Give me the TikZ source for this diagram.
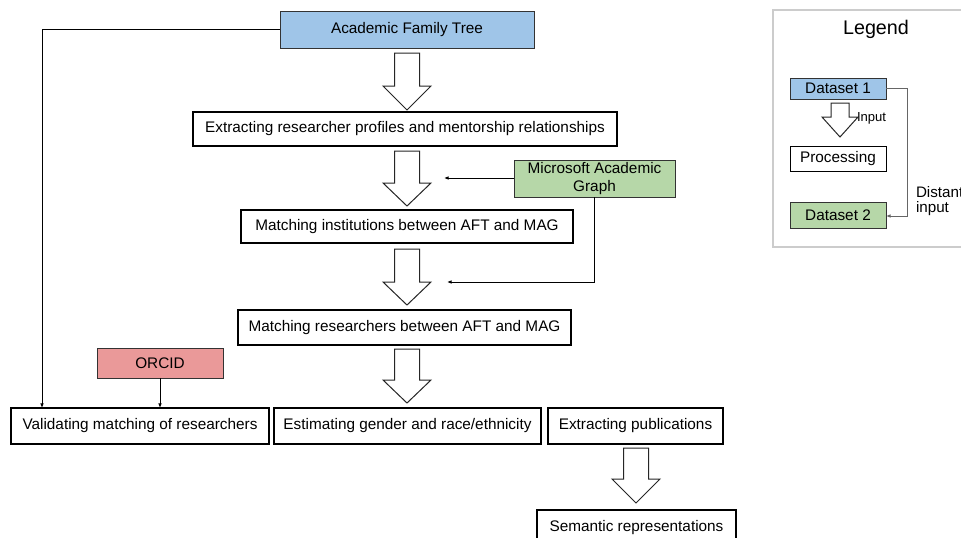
\documentclass[tikz,border=0pt]{standalone}
\usepackage{fontspec}
\setmainfont{Liberation Sans}
\usetikzlibrary{arrows.meta}
\definecolor{aftblue}{HTML}{9FC5E8}
\definecolor{maggreen}{HTML}{B6D7A8}
\definecolor{orcidpink}{HTML}{EA9999}
\definecolor{leggray}{HTML}{CCCCCC}
\def\u{0.75pt}
\tikzset{
 base/.style={inner sep=0pt, outer sep=0pt, align=center, font=\fontsize{11.5}{13.5}\selectfont},
 dataset/.style={base, draw=black!80, line width=0.75pt},
 procbox/.style={base, draw=black, line width=1.9pt, fill=white},
 thinbox/.style={base, draw=black, line width=0.75pt, fill=white},
 blockarr/.style={draw=black!85, line width=0.75pt, fill=white, line join=miter},
 conn/.style={draw=black, line width=0.7pt, -{Latex[length=3.5pt,width=2.8pt]}},
 grayconn/.style={draw=black!60, line width=0.7pt, -{Latex[length=3.5pt,width=2.8pt]}},
}
\newcommand\pbox[7]{\node[#2, minimum width={(#5-#3)*\u}, minimum height={(#6-#4)*\u}] (#1) at ({(#3+#5)/2},{(#4+#6)/2}) {#7};}
% cx, top, headstart, tip, shaft half width, head half width
\newcommand\barrow[6]{\draw[blockarr] ({#1-#5},#2) -- ({#1+#5},#2) -- ({#1+#5},#3) -- ({#1+#6},#3) -- (#1,#4) -- ({#1-#6},#3) -- ({#1-#5},#3) -- cycle;}
\begin{document}
\begin{tikzpicture}[x=0.75pt,y=-0.75pt]
\clip (0,0) rectangle (961,537);
\fill[white] (0,0) rectangle (961,537);

% main flow
\pbox{aft}{dataset,fill=aftblue}{280}{11}{534}{48}{Academic Family Tree}
\pbox{prof}{procbox}{193}{112}{617}{146}{Extracting researcher profiles and mentorship relationships}
\pbox{mag}{dataset,fill=maggreen}{514}{160}{675}{197}{Microsoft Academic\\Graph}
\pbox{inst}{procbox}{241}{210}{573}{243}{Matching institutions between AFT and MAG}
\pbox{res}{procbox}{238}{310}{571}{345}{Matching researchers between AFT and MAG}
\pbox{orcid}{dataset,fill=orcidpink}{97}{348}{223}{378}{ORCID}
\pbox{valid}{procbox}{11}{408}{269}{444}{Validating matching of researchers}
\pbox{gender}{procbox}{274}{408}{541}{444}{Estimating gender and race/ethnicity}
\pbox{pubs}{procbox}{548}{408}{723}{444}{Extracting publications}
\pbox{sem}{procbox}{537}{510}{736}{546}{Semantic representations}

\barrow{407}{53}{86}{110}{12.5}{24}
\barrow{407}{151}{183}{206}{12.5}{24}
\barrow{407}{249}{282}{305}{12.5}{24}
\barrow{407}{349}{380}{403}{12.5}{24}
\barrow{636}{448}{479}{503}{12.5}{24}

\coordinate (magin) at (444,178);
\coordinate (magin2) at (447,282);
\draw[conn] (mag.west |- magin) -- (magin);
\draw[conn] (mag.south -| 594,0) -- (594,282) -- (magin2);
\draw[conn] (aft.west) -- (42,0 |- aft.west) -- (42,0 |- valid.north);
\draw[conn] (orcid.south) -- (orcid.south |- valid.north);

% legend
\draw[leggray, line width=0.9pt] (773,10) rectangle (966,247);
\node[base, font=\fontsize{14.8}{16}\selectfont] (legtitle) at (876,29) {Legend};
\pbox{ld1}{dataset,fill=aftblue}{790}{78}{886}{99}{Dataset 1}
\pbox{lproc}{thinbox}{790}{146}{886}{171}{Processing}
\pbox{ld2}{dataset,fill=maggreen}{790}{202}{886}{228}{Dataset 2}
\barrow{840}{103}{117}{137}{9}{18}
\node[base, anchor=west, font=\fontsize{9.8}{11}\selectfont] (linput) at (857,118) {Input};
\coordinate (ldin) at (907,216);
\draw[grayconn] (ld1.east) -- (907,0 |- ld1.east) -- (ldin) -- (ld2.east |- ldin);
\node[base, anchor=west, align=left, font=\fontsize{11.4}{11.3}\selectfont] (ldist) at (916,201) {Distant\\input};
\end{tikzpicture}
\end{document}
